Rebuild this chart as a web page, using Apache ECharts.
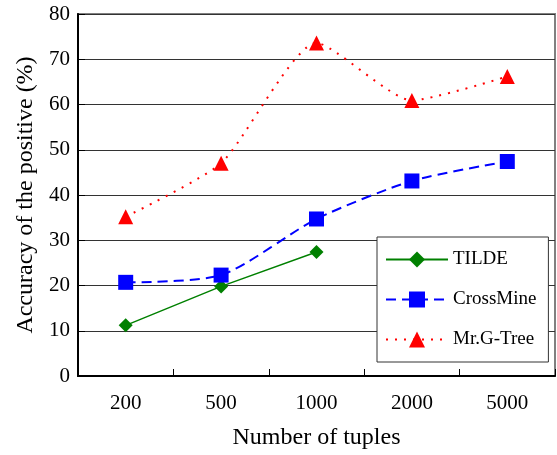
<!DOCTYPE html>
<html>
<head>
<meta charset="utf-8">
<script src="https://cdn.jsdelivr.net/npm/echarts@6/dist/echarts.min.js"></script>
<style>html,body{margin:0;padding:0;background:#fff;}#c{width:557px;height:455px;}</style>
</head>
<body>
<div id="c"></div>
<script>
const categories = ['200', '500', '1000', '2000', '5000'];
const tilde = [11.2, 19.8, 27.4, null, null];
const crossMine = [20.7, 22.3, 34.7, 43.1, 47.4];
const mrGTree = [35.2, 47.0, 73.6, 60.9, 66.2];
const yTicks = [0, 10, 20, 30, 40, 50, 60, 70, 80];

const FONT = 'Liberation Serif';
const chart = echarts.init(document.getElementById('c'), null, {renderer: 'canvas'});
chart.setOption({
  animation: false,
  backgroundColor: '#fff',
  textStyle: {fontFamily: FONT},
  grid: {left: 78, top: 14, width: 477, height: 364, show: true, borderColor: '#808080', borderWidth: 2, backgroundColor: 'transparent'},
  xAxis: {
    type: 'category',
    data: categories,
    boundaryGap: true,
    name: 'Number of tuples',
    nameLocation: 'middle',
    nameGap: 50,
    nameTextStyle: {fontFamily: FONT, fontSize: 24, color: '#000'},
    axisLine: {show: true, lineStyle: {color: '#000', width: 2}},
    axisTick: {show: true, inside: true, length: 7, lineStyle: {color: '#000', width: 1}},
    axisLabel: {fontFamily: FONT, fontSize: 21, color: '#000', margin: 17},
    splitLine: {show: false}
  },
  yAxis: {
    type: 'value',
    min: yTicks[0],
    max: yTicks[yTicks.length - 1],
    interval: 10,
    name: 'Accuracy of the positive (%)',
    nameLocation: 'middle',
    nameRotate: 90,
    nameGap: 40,
    nameTextStyle: {fontFamily: FONT, fontSize: 24, color: '#000'},
    axisLine: {show: true, lineStyle: {color: '#000', width: 2}},
    axisTick: {show: true, inside: true, length: 7, lineStyle: {color: '#000'}},
    axisLabel: {fontFamily: FONT, fontSize: 21, color: '#000', margin: 8},
    splitLine: {show: true, lineStyle: {color: '#333', width: 1}}
  },
  legend: {
    orient: 'vertical',
    left: 377,
    top: 237,
    padding: [13, 12, 13, 8],
    itemGap: 21,
    itemWidth: 62,
    itemHeight: 20,
    backgroundColor: '#fff',
    borderColor: '#333',
    borderWidth: 1,
    textStyle: {fontFamily: FONT, fontSize: 19, color: '#000'},
    data: ['TILDE', 'CrossMine', 'Mr.G-Tree']
  },
  series: [
    {
      name: 'TILDE', type: 'line', data: tilde,
      symbol: 'diamond', symbolSize: 14,
      itemStyle: {color: '#008000'},
      lineStyle: {color: '#008000', width: 1.5, type: 'solid'},
      z: 3
    },
    {
      name: 'CrossMine', type: 'line', data: crossMine, smooth: 0.25,
      symbol: 'rect', symbolSize: 15,
      itemStyle: {color: '#0000ff'},
      lineStyle: {color: '#0000ff', width: 2, type: [10, 6]},
      z: 3
    },
    {
      name: 'Mr.G-Tree', type: 'line', data: mrGTree, smooth: 0.2,
      symbol: 'triangle', symbolSize: 15,
      itemStyle: {color: '#ff0000'},
      lineStyle: {color: '#ff0000', width: 2, type: [2, 7]},
      z: 3
    }
  ]
});
</script>
</body>
</html>
